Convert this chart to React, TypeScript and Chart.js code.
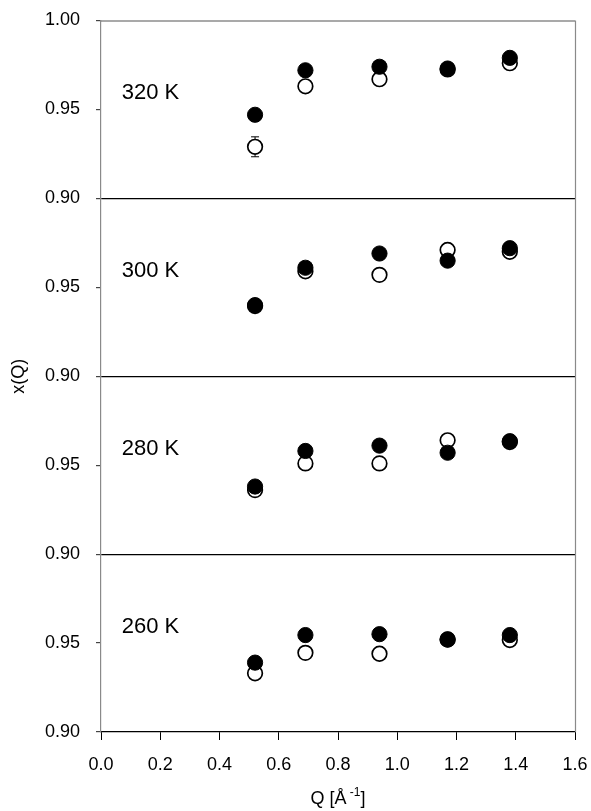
import React, { useEffect, useRef } from "react";
import { Chart, registerables } from "chart.js";

Chart.register(...registerables);

// ---- data ----
const Q = [0.52, 0.69, 0.94, 1.17, 1.38];
const TEMPS = ["260 K", "280 K", "300 K", "320 K"]; // bottom -> top
const FILLED_260 = [0.939, 0.9545, 0.955, 0.952, 0.9545];
const OPEN_260 = [0.933, 0.9445, 0.944, 0.952, 0.9517];
const FILLED_280 = [0.938, 0.958, 0.961, 0.957, 0.9635];
const OPEN_280 = [0.936, 0.951, 0.951, 0.964, 0.963];
const FILLED_300 = [0.94, 0.961, 0.969, 0.965, 0.972];
const OPEN_300 = [0.9395, 0.959, 0.957, 0.971, 0.97];
const FILLED_320 = [0.947, 0.972, 0.974, 0.973, 0.979];
const OPEN_320 = [0.929, 0.963, 0.967, 0.9725, 0.976];
const OPEN_320_ERR = [0.0056, 0, 0, 0, 0];
const Y_TICKS = ["0.90", "0.95"];
const X_TICK_STEP = 0.2;

const FILLED = [FILLED_260, FILLED_280, FILLED_300, FILLED_320];
const OPEN = [OPEN_260, OPEN_280, OPEN_300, OPEN_320];
const OPEN_ERR = [null, null, null, OPEN_320_ERR];

const PANEL_MIN = 0.9;
const PANEL_SPAN = 0.1;
const LABEL_Q = 0.07;
const LABEL_Y = 0.9557;

const FONT = "'Liberation Sans', Arial, sans-serif";

const toStack = (panel: number, v: number) => panel * PANEL_SPAN + (v - PANEL_MIN);

export default function App() {
  const ref = useRef<HTMLCanvasElement | null>(null);

  useEffect(() => {
    if (!ref.current) return;
    const datasets: any[] = [];
    for (let p = 0; p < 4; p++) {
      datasets.push({
        label: TEMPS[p] + " open",
        data: Q.map((q, i) => ({ x: q, y: toStack(p, OPEN[p][i]) })),
        backgroundColor: "#ffffff",
        borderColor: "#000000",
        borderWidth: 1.7,
        pointRadius: 7.3,
        showLine: false,
        order: 2,
      });
      datasets.push({
        label: TEMPS[p] + " filled",
        data: Q.map((q, i) => ({ x: q, y: toStack(p, FILLED[p][i]) })),
        backgroundColor: "#000000",
        borderColor: "#000000",
        borderWidth: 1,
        pointRadius: 7.6,
        showLine: false,
        order: 1,
      });
    }

    const overlay = {
      id: "overlay",
      beforeDatasetsDraw(chart: any) {
        const ctx = chart.ctx;
        const xs = chart.scales.x;
        const ys = chart.scales.y;
        ctx.save();
        ctx.strokeStyle = "#000";
        ctx.lineWidth = 1;
        for (let p = 0; p < 4; p++) {
          const errs = OPEN_ERR[p];
          if (!errs) continue;
          Q.forEach((q, i) => {
            const e = errs[i];
            if (!e) return;
            const px = xs.getPixelForValue(q);
            const y1 = ys.getPixelForValue(toStack(p, OPEN[p][i] + e));
            const y2 = ys.getPixelForValue(toStack(p, OPEN[p][i] - e));
            ctx.beginPath();
            ctx.moveTo(px, y1);
            ctx.lineTo(px, y2);
            ctx.moveTo(px - 4, y1);
            ctx.lineTo(px + 4, y1);
            ctx.moveTo(px - 4, y2);
            ctx.lineTo(px + 4, y2);
            ctx.stroke();
          });
        }
        ctx.restore();
      },
      afterDraw(chart: any) {
        const ctx = chart.ctx;
        const xs = chart.scales.x;
        const ys = chart.scales.y;
        const a = chart.chartArea;
        ctx.save();
        // right and top border
        ctx.strokeStyle = "#8a8a8a";
        ctx.lineWidth = 1.2;
        ctx.beginPath();
        ctx.moveTo(a.right + 0.5, a.top);
        ctx.lineTo(a.right + 0.5, a.bottom);
        ctx.stroke();
        ctx.strokeStyle = "#555";
        ctx.beginPath();
        ctx.moveTo(a.left, a.top + 0.5);
        ctx.lineTo(a.right, a.top + 0.5);
        ctx.stroke();
        // temperature labels
        ctx.fillStyle = "#000";
        ctx.font = "22px " + FONT;
        ctx.textAlign = "left";
        ctx.textBaseline = "alphabetic";
        for (let p = 0; p < 4; p++) {
          ctx.fillText(TEMPS[p], xs.getPixelForValue(LABEL_Q), ys.getPixelForValue(toStack(p, LABEL_Y)));
        }
        // y title
        ctx.save();
        ctx.translate(24, (a.top + a.bottom) / 2);
        ctx.rotate(-Math.PI / 2);
        ctx.textAlign = "center";
        ctx.font = "18px " + FONT;
        ctx.fillText("x(Q)", 0, 0);
        ctx.restore();
        // x title with superscript
        const cx = (a.left + a.right) / 2;
        const by = 804;
        const big = "18px " + FONT;
        const small = "12px " + FONT;
        ctx.font = big;
        const w1 = ctx.measureText("Q [Å").width;
        const w3 = ctx.measureText("]").width;
        ctx.font = small;
        const w2 = ctx.measureText(" -1").width;
        const x0 = cx - (w1 + w2 + w3) / 2;
        ctx.textAlign = "left";
        ctx.font = big;
        ctx.fillText("Q [Å", x0, by);
        ctx.font = small;
        ctx.fillText(" -1", x0 + w1, by - 8);
        ctx.font = big;
        ctx.fillText("]", x0 + w1 + w2, by);
        ctx.restore();
      },
    };

    const chart = new Chart(ref.current, {
      type: "scatter",
      data: { datasets },
      options: {
        animation: false,
        responsive: true,
        maintainAspectRatio: false,
        layout: { padding: { left: 0, right: 16, top: 20.5, bottom: 0 } },
        plugins: { legend: { display: false }, tooltip: { enabled: false } },
        scales: {
          x: {
            type: "linear",
            min: 0,
            max: 1.6,
            afterFit: (s: any) => {
              s.height = 79;
              s.paddingLeft = 0;
              s.paddingRight = 0;
            },
            ticks: {
              stepSize: X_TICK_STEP,
              color: "#000",
              font: { family: FONT, size: 18 },
              padding: 14,
              callback: (v: any) => Number(v).toFixed(1),
            },
            grid: { drawOnChartArea: false, drawTicks: true, tickLength: 8, color: "#000", tickColor: "#000" },
            border: { color: "#000", width: 1.2 },
          },
          y: {
            type: "linear",
            min: 0,
            max: 0.4,
            afterFit: (s: any) => {
              s.width = 101;
              s.paddingTop = 0;
              s.paddingBottom = 0;
            },
            ticks: {
              stepSize: 0.05,
              color: "#000",
              font: { family: FONT, size: 18 },
              padding: 16,
              callback: (v: any) => {
                const k = Math.round(Number(v) * 100);
                if (k === 40) return "1.00";
                return Y_TICKS[Math.round((k % 10) / 5)];
              },
            },
            grid: {
              drawTicks: true,
              tickLength: 5,
              tickColor: "#444",
              lineWidth: 1.2,
              color: (c: any) => {
                const k = Math.round(Number(c.tick?.value) * 100);
                return k === 10 || k === 20 || k === 30 ? "#000" : "rgba(0,0,0,0)";
              },
            },
            border: { color: "#8a8a8a", width: 1.2 },
          },
        },
      },
      plugins: [overlay],
    });
    return () => chart.destroy();
  }, []);

  return (
    <div style={{ position: "fixed", left: 0, top: 0, width: 591, height: 811, background: "#fff" }}>
      <canvas ref={ref} />
    </div>
  );
}
